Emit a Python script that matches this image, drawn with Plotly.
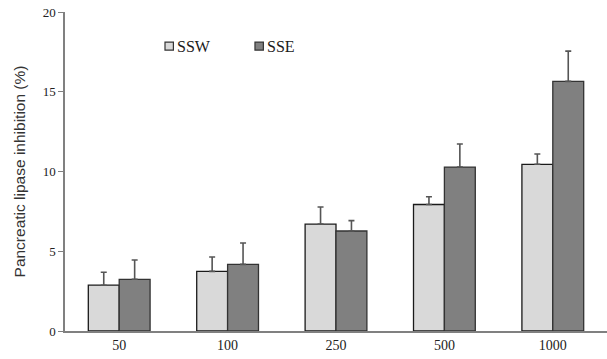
import plotly.graph_objects as go

doses = ["50", "100", "250", "500", "1000"]
ssw = [2.87, 3.74, 6.70, 7.93, 10.45]
ssw_err = [0.81, 0.90, 1.07, 0.49, 0.65]
sse = [3.24, 4.18, 6.27, 10.28, 15.65]
sse_err = [1.21, 1.34, 0.65, 1.44, 1.90]

series = [
    ("SSW", ssw, ssw_err, "#d9d9d9", "#1a1a1a"),
    ("SSE", sse, sse_err, "#808080", "#333333"),
]

serif = "Liberation Serif, Times New Roman, serif"

fig = go.Figure()
for name, vals, errs, fill, edge in series:
    fig.add_trace(go.Bar(
        x=doses, y=vals, name=name, showlegend=False,
        marker=dict(color=fill, line=dict(color=edge, width=1.3)),
        error_y=dict(type="data", array=errs, arrayminus=[0] * len(vals),
                     symmetric=False, color="#555555", thickness=1.6, width=3),
    ))

# Compact key: small outlined square followed by the series name
key_x = [0.1845, 0.3505]  # paper x of each key swatch
key_y = 0.893
sw_w, sw_h = 0.0155, 0.025
for (name, _, _, fill, edge), kx in zip(series, key_x):
    fig.add_shape(type="rect", xref="paper", yref="paper",
                  x0=kx, x1=kx + sw_w, y0=key_y - sw_h / 2, y1=key_y + sw_h / 2,
                  fillcolor=fill, line=dict(color="#333333", width=1.2))
    fig.add_annotation(xref="paper", yref="paper", x=kx + sw_w + 0.003, y=key_y,
                       xanchor="left", yanchor="middle", showarrow=False,
                       text=name, font=dict(family=serif, size=16, color="#1a1a1a"))

fig.update_layout(
    width=607, height=359,
    margin=dict(l=65, r=0, t=12, b=28),
    plot_bgcolor="white", paper_bgcolor="white",
    barmode="group", bargap=0.43, bargroupgap=0,
    font=dict(family=serif, size=14, color="#222222"),
    xaxis=dict(showline=True, linecolor="#808080", linewidth=1.5, ticks="",
               tickfont=dict(family=serif, size=14), showgrid=False),
    yaxis=dict(range=[0, 20], tickvals=[0, 5, 10, 15, 20], showline=True,
               linecolor="#808080", linewidth=1.5, ticks="outside", ticklen=5,
               tickcolor="#808080", showgrid=False, zeroline=False,
               tickfont=dict(family=serif, size=13),
               title=dict(text="Pancreatic lipase inhibition (%)", standoff=13,
                          font=dict(family="Liberation Sans, Arial, sans-serif",
                                    size=15.5, color="#333333"))),
)

fig.write_html("out.html")
